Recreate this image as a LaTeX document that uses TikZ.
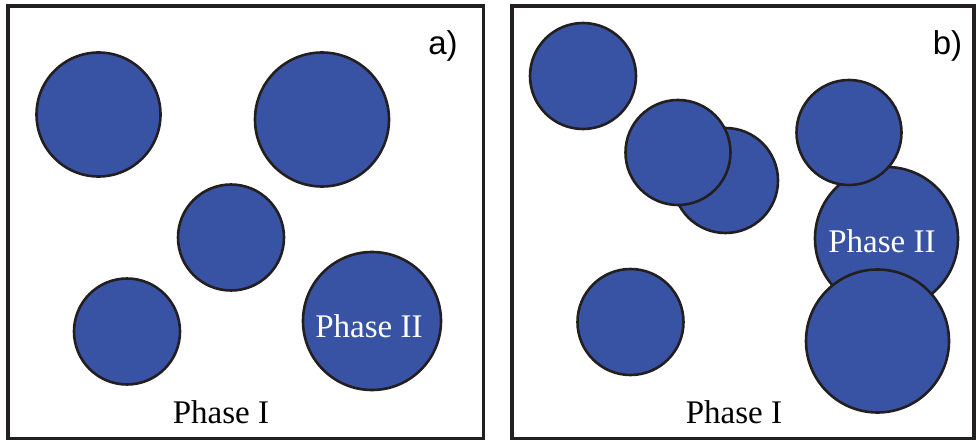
\documentclass[tikz,border=0pt]{standalone}
\usepackage{fontspec}
\setmainfont{Liberation Serif}
\newfontfamily\labelfont{Liberation Sans}
\definecolor{ballblue}{HTML}{3953A4}
\definecolor{inkdark}{HTML}{231F20}
\tikzset{
  panel/.style={draw=inkdark, line width=3.5pt},
  ball/.style={circle, draw=inkdark, fill=ballblue, line width=2.6pt, inner sep=0pt},
  phasetext/.style={font=\fontsize{33}{36}\selectfont, anchor=base, inner sep=0pt},
  tagtext/.style={font=\labelfont\fontsize{33}{36}\selectfont, anchor=base, inner sep=0pt}
}
\begin{document}
\begin{tikzpicture}[x=1pt,y=-1pt]
\useasboundingbox (0,0) rectangle (977,441);
% panels
\draw[panel] (8,6) rectangle (483.5,438.5);
\draw[panel] (512,6) rectangle (974,438.5);
% panel a
\node[ball, minimum size=124pt] (a1) at (98.5,114.5) {};
\node[ball, minimum size=134pt] (a2) at (322,119.5) {};
\node[ball, minimum size=106pt] (a3) at (231,237.5) {};
\node[ball, minimum size=106pt] (a4) at (127,331.5) {};
\node[ball, minimum size=138pt] (a5) at (372,321) {};
\node[phasetext, text=white] (a5t) at (369,337) {Phase II};
\node[phasetext] (aI) at (221,423) {Phase I};
\node[tagtext] (atag) at (443,55) {a)};
% panel b
\node[ball, minimum size=106pt] (b1) at (583,76) {};
\node[ball, minimum size=105pt] (b2) at (725.5,180.5) {};
\node[ball, minimum size=105pt] (b3) at (678,152.5) {};
\node[ball, minimum size=106pt] (b4) at (630.5,322) {};
\node[ball, minimum size=143pt] (b5) at (886.5,238.5) {};
\node[ball, minimum size=105pt] (b6) at (849,132.5) {};
\node[ball, minimum size=143pt] (b7) at (877.5,341) {};
\node[phasetext, text=white] (b5t) at (882,252) {Phase II};
\node[phasetext] (bI) at (734,423) {Phase I};
\node[tagtext] (btag) at (947.5,55) {b)};
\end{tikzpicture}
\end{document}
